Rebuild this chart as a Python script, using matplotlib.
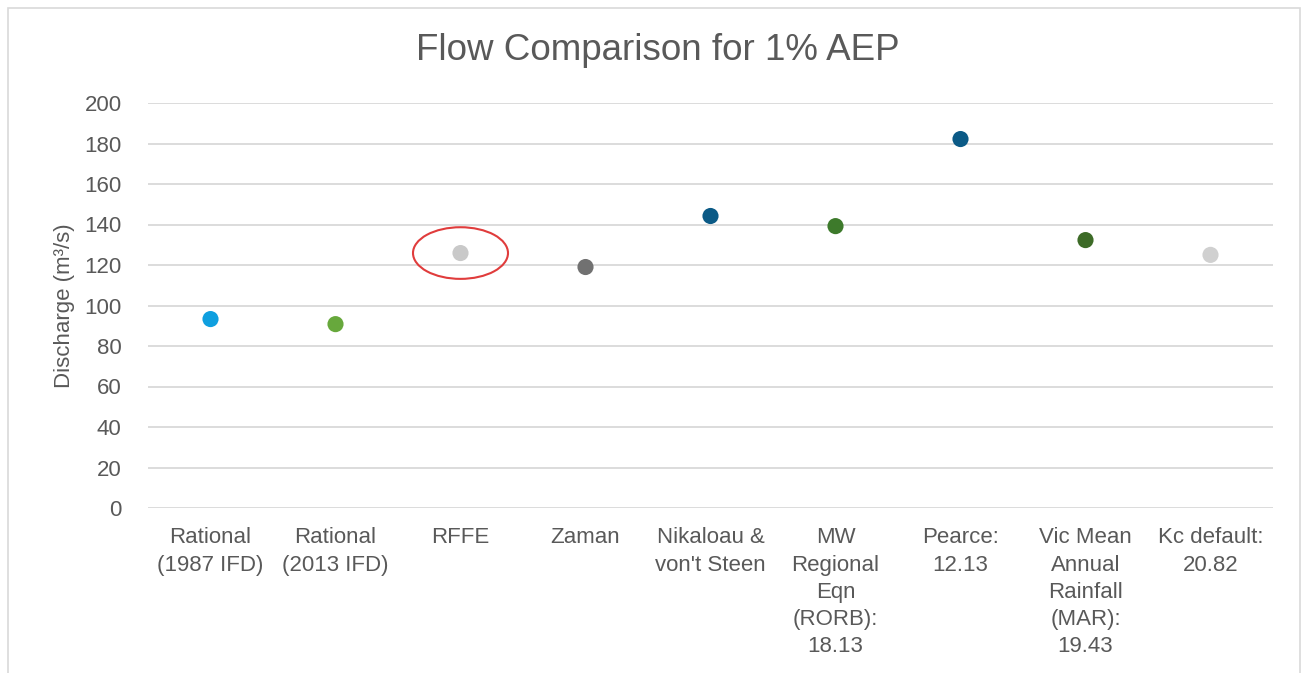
import matplotlib.pyplot as plt
from matplotlib.patches import Ellipse, Rectangle

# данные
categories = ["Rational\n(1987 IFD)", "Rational\n(2013 IFD)", "RFFE", "Zaman",
              "Nikaloau &\nvon't Steen", "MW\nRegional\nEqn\n(RORB):\n18.13",
              "Pearce:\n12.13", "Vic Mean\nAnnual\nRainfall\n(MAR):\n19.43",
              "Kc default:\n20.82"]
discharge = [93.3, 90.8, 125.9, 119.0, 144.2, 139.2, 182.2, 132.3, 125.0]
colors = ["#0f9fdf", "#67a83c", "#c9c9c9", "#717171", "#0b5a86", "#3d7a2b",
          "#0b5a86", "#3d6b27", "#d0d0d0"]
yticks = [0, 20, 40, 60, 80, 100, 120, 140, 160, 180, 200]

plt.rcParams['font.family'] = ['Liberation Sans', 'DejaVu Sans']
text_color = '#595959'

fig = plt.figure(figsize=(13.07, 6.73), dpi=100)
ax = fig.add_axes([148 / 1307, 1 - 508 / 673, (1273 - 148) / 1307, (508 - 103) / 673])

x = list(range(len(categories)))
ax.scatter(x, discharge, c=colors, s=135, zorder=3, edgecolors='none')

# красный овал вокруг RFFE
ax.add_patch(Ellipse((2, discharge[2]), 0.76, 25.5, fill=False,
                     edgecolor='#e03c3c', linewidth=1.5, zorder=4))

ax.set_xlim(-0.5, len(categories) - 0.5)
ax.set_ylim(0, 200)
ax.set_yticks(yticks)
ax.set_xticks(x)
ax.set_xticklabels(categories, fontsize=16, color=text_color, linespacing=1.38)
ax.tick_params(axis='x', length=0, pad=14)
ax.tick_params(axis='y', length=0, pad=19, labelsize=16, labelcolor=text_color)
ax.grid(axis='y', color='#d9d9d9', linewidth=1.3)
ax.set_axisbelow(True)
for s in ax.spines.values():
    s.set_visible(False)

ax.set_ylabel('Discharge (m³/s)', fontsize=16, color=text_color, labelpad=7)
fig.text(0.503, 1 - 51 / 673, 'Flow Comparison for 1% AEP', fontsize=26.5,
         color=text_color, ha='center', va='center')

# рамка диаграммы
fig.patches.append(Rectangle((8 / 1307, -0.02), (1300 - 8) / 1307, 1.02 - 8 / 673,
                             transform=fig.transFigure, fill=False,
                             edgecolor='#d9d9d9', linewidth=1.2))

fig.savefig('out.png', dpi=100)
